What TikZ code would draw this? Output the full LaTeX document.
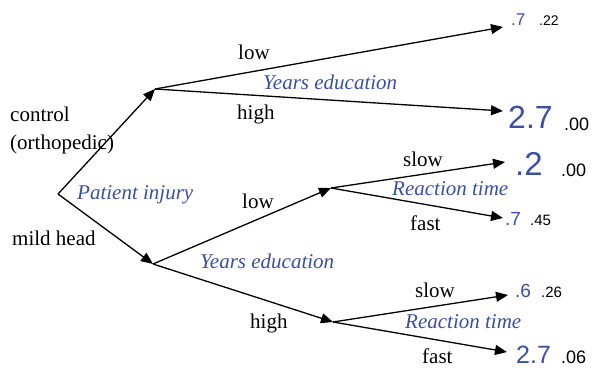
\documentclass[tikz,border=0pt]{standalone}
\usepackage{fontspec}
\setmainfont{Liberation Serif}
\setsansfont{Liberation Sans}
\usetikzlibrary{arrows.meta}
\definecolor{cBlue}{HTML}{3A4FA6}

\tikzset{
  branch/.style={line width=1.3pt, -{Triangle[length=12pt,width=10pt]}},
  lvl/.style={font=\fontsize{21}{26}\selectfont, anchor=base west, inner sep=0pt, align=left},
  fac/.style={text=cBlue, font=\fontsize{21}{26}\selectfont\itshape, anchor=base west, inner sep=0pt},
  est/.style={text=cBlue, font=\sffamily\fontsize{#1}{#1}\selectfont, anchor=base west, inner sep=0pt},
  pval/.style={font=\sffamily\fontsize{#1}{#1}\selectfont, anchor=base west, inner sep=0pt},
}

\begin{document}
\begin{tikzpicture}[x=1pt, y=-1pt]
  \useasboundingbox (0,0) rectangle (593,371);
  % branch points
  \coordinate (root) at (58,194);
  \coordinate (ctrl) at (155,89);
  \coordinate (mild) at (153,264);
  \coordinate (mlow) at (331,188);
  \coordinate (mhigh) at (333,322);
  % leaf tips
  \coordinate (t1) at (503,27);
  \coordinate (t2) at (503,111);
  \coordinate (t3) at (505,162);
  \coordinate (t4) at (503,218);
  \coordinate (t5) at (508,295);
  \coordinate (t6) at (507,352);

  % connectors
  \draw[branch] (root) -- (ctrl);
  \draw[branch] (root) -- (mild);
  \draw[branch] (ctrl) -- (t1);
  \draw[branch] (ctrl) -- (t2);
  \draw[branch] (mild) -- (mlow);
  \draw[branch] (mild) -- (mhigh);
  \draw[branch] (mlow) -- (t3);
  \draw[branch] (mlow) -- (t4);
  \draw[branch] (mhigh) -- (t5);
  \draw[branch] (mhigh) -- (t6);

  % level labels
  \node[lvl] (lctrl) at (10,122) {control};
  \node[lvl] (lortho) at (10,150) {(orthopedic)};
  \node[lvl] (lmild) at (12,245) {mild head};
  \node[lvl] (lowA) at (238,60) {low};
  \node[lvl] (highA) at (237,120) {high};
  \node[lvl] (lowB) at (242,208) {low};
  \node[lvl] (highB) at (250,328) {high};
  \node[lvl] (slowC) at (403,167) {slow};
  \node[lvl] (fastC) at (410,230) {fast};
  \node[lvl] (slowD) at (415,297) {slow};
  \node[lvl] (fastD) at (422,363) {fast};

  % factor labels
  \node[fac] (finj) at (77,200) {Patient injury};
  \node[fac] (fedA) at (263,90) {Years education};
  \node[fac] (fedB) at (200,268) {Years education};
  \node[fac] (frtC) at (392,195) {Reaction time};
  \node[fac] (frtD) at (405,328) {Reaction time};

  % leaf values
  \node[est=17] (e1) at (511,26) {.7};
  \node[pval=14] (p1) at (539,26) {.22};
  \node[est=32] (e2) at (508,129) {2.7};
  \node[pval=18] (p2) at (564,131) {.00};
  \node[est=33] (e3) at (515,176) {.2};
  \node[pval=18] (p3) at (561,177) {.00};
  \node[est=19] (e4) at (505,225) {.7};
  \node[pval=15] (p4) at (530,225) {.45};
  \node[est=19] (e5) at (515,297) {.6};
  \node[pval=15] (p5) at (541,297) {.26};
  \node[est=25] (e6) at (516,363) {2.7};
  \node[pval=18] (p6) at (561,363) {.06};
\end{tikzpicture}
\end{document}
